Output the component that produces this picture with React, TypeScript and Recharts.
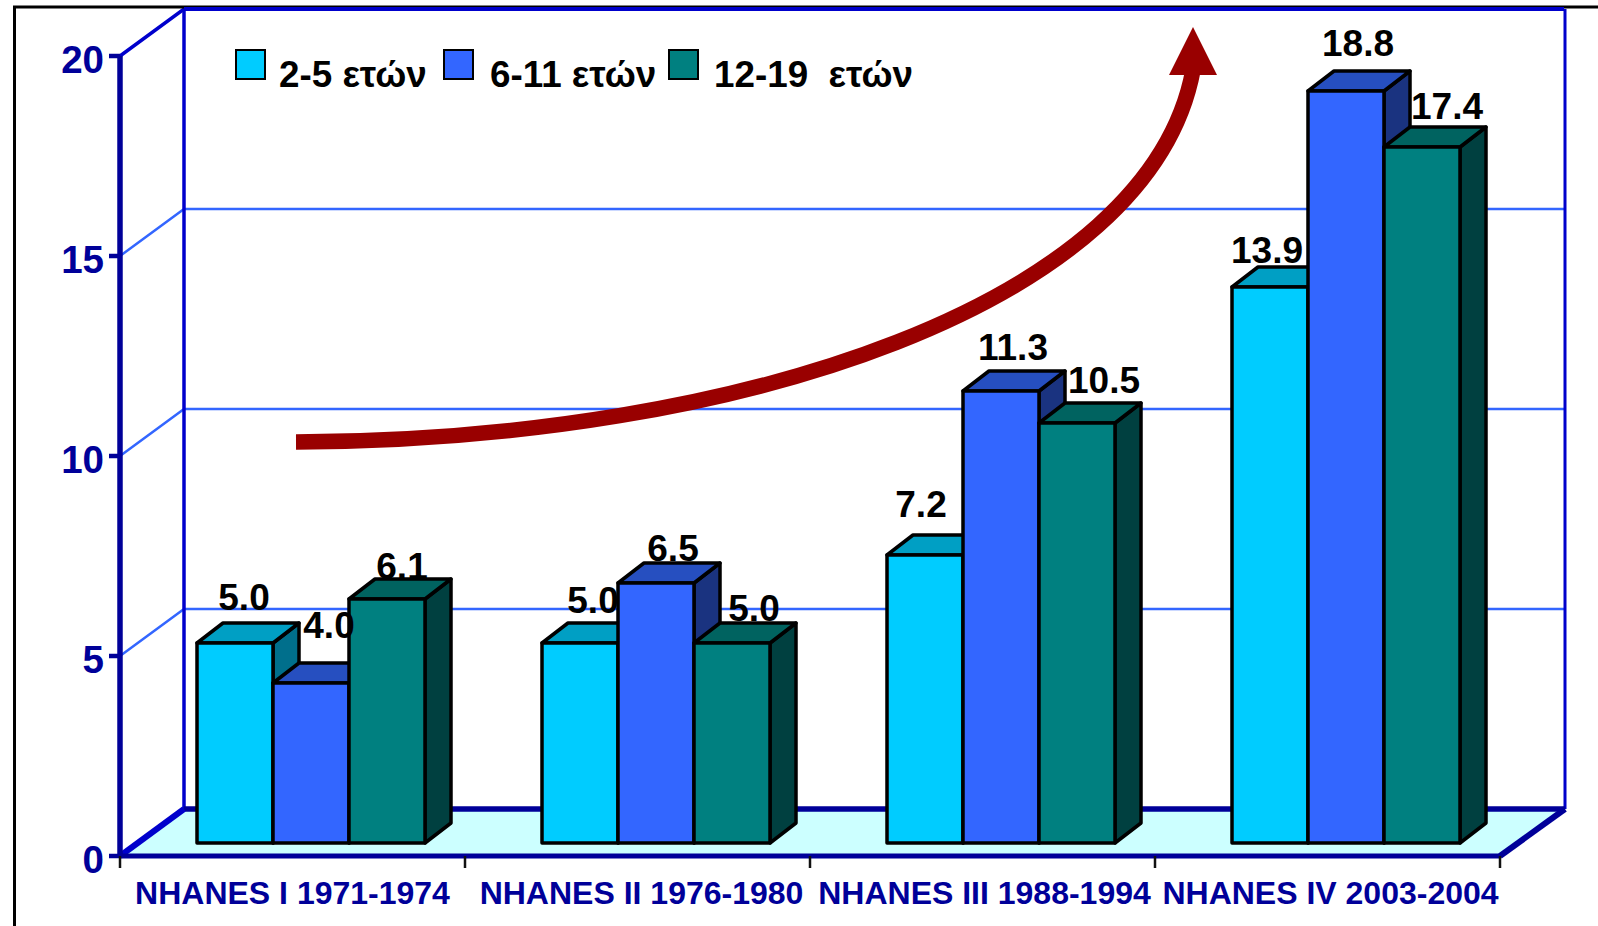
import { Bar, BarChart, CartesianGrid, LabelList, Legend, XAxis, YAxis } from 'recharts'

const periods = ['NHANES I 1971-1974', 'NHANES II 1976-1980', 'NHANES III 1988-1994', 'NHANES IV 2003-2004']
const ages2to5 = [5.0, 5.0, 7.2, 13.9]
const ages6to11 = [4.0, 6.5, 11.3, 18.8]
const ages12to19 = [6.1, 5.0, 10.5, 17.4]
const yTicks = [0, 5, 10, 15, 20]
const seriesNames = ['2-5 ετών', '6-11 ετών', '12-19  ετών']

const rows = periods.map((period, i) => ({
  period,
  a: ages2to5[i],
  b: ages6to11[i],
  c: ages12to19[i],
}))

const FONT = '"Liberation Sans", Arial, sans-serif'
const NAVY = '#000099'
const BLUE = '#0000CC'
const GRID = '#3366FF'

const WIDTH = 1598
const HEIGHT = 926
const PLOT = { left: 120, right: 1500, top: 56, bottom: 856 }
const WALL = { dx: 64, dy: -47 }
const BAR_SHIFT = { dx: 19, dy: -13 }
const BOX = { dx: 26, dy: -20 }

const tones = [
  { front: '#00CCFF', top: '#009FC4', side: '#006F8C' },
  { front: '#3366FF', top: '#264FC0', side: '#1A3380' },
  { front: '#008080', top: '#006360', side: '#004040' },
]

// hand placed in the original, so each label has its own nudge [dx, gap above the box]
const labelNudges = [
  [[9, 13], [13, 10], [-4, 18], [-3, 4]],
  [[18, 25], [17, 2], [12, 11], [12, 15]],
  [[15, 0], [22, 2], [27, 10], [25, 8]],
]
const periodNudges = [0, 4, 2, 3]

const legendSwatchX = [235, 443, 668]
const legendTextX = [279, 490, 714]

function Box3D({ x, y, width, height, tone }: any) {
  const l = x + BAR_SHIFT.dx
  const r = l + width
  const t = y + BAR_SHIFT.dy
  const b = t + height
  const common = { stroke: '#000', strokeWidth: 3.5, strokeLinejoin: 'round' as const }
  return (
    <g>
      <path d={`M${r},${t} L${r + BOX.dx},${t + BOX.dy} L${r + BOX.dx},${b + BOX.dy} L${r},${b} Z`} fill={tone.side} {...common} />
      <path d={`M${l},${t} L${l + BOX.dx},${t + BOX.dy} L${r + BOX.dx},${t + BOX.dy} L${r},${t} Z`} fill={tone.top} {...common} />
      <rect x={l} y={t} width={width} height={height} fill={tone.front} {...common} />
    </g>
  )
}

function valueLabel(series: number) {
  return ({ x, y, width, value, index }: any) => {
    const [dx, gap] = labelNudges[series][index]
    return (
      <text
        x={x + width / 2 + BAR_SHIFT.dx + dx}
        y={y + BAR_SHIFT.dy + BOX.dy - gap}
        textAnchor='middle'
        fontFamily={FONT}
        fontWeight='bold'
        fontSize={37}
        fill='#000'
      >
        {Number(value).toFixed(1)}
      </text>
    )
  }
}

function WallGridLine({ x1, y1, x2 }: any) {
  const isTop = y1 <= PLOT.top + 1
  return (
    <path
      d={`M${x1},${y1} L${x1 + WALL.dx},${y1 + WALL.dy} L${x2 + WALL.dx},${y1 + WALL.dy}`}
      fill='none'
      stroke={isTop ? BLUE : GRID}
      strokeWidth={isTop ? 3.5 : 2.5}
    />
  )
}

function PeriodTick({ x, y, payload, index }: any) {
  const band = (PLOT.right - PLOT.left) / periods.length
  return (
    <g>
      <line x1={x - band / 2} x2={x - band / 2} y1={y - 8} y2={y + 4} stroke='#111' strokeWidth={2.5} />
      {index === periods.length - 1 && (
        <line x1={x + band / 2} x2={x + band / 2} y1={y - 8} y2={y + 4} stroke='#111' strokeWidth={2.5} />
      )}
      <text
        x={x + periodNudges[index]}
        y={y + 40}
        textAnchor='middle'
        fontFamily={FONT}
        fontWeight='bold'
        fontSize={32}
        fill={NAVY}
      >
        {payload.value}
      </text>
    </g>
  )
}

function ValueTick({ x, y, payload }: any) {
  return (
    <text x={x + 4} y={y + 17} textAnchor='end' fontFamily={FONT} fontWeight='bold' fontSize={38.5} fill={NAVY}>
      {payload.value}
    </text>
  )
}

function LegendContent() {
  return (
    <div style={{ position: 'relative', width: WIDTH, height: 100, fontFamily: FONT, fontWeight: 'bold', fontSize: 36.8 }}>
      {seriesNames.map((name, i) => (
        <div key={name}>
          <div
            style={{
              position: 'absolute',
              left: legendSwatchX[i],
              top: 49,
              width: 27,
              height: 27,
              background: tones[i].front,
              border: '2.5px solid #000',
            }}
          />
          <span style={{ position: 'absolute', left: legendTextX[i], top: 54, whiteSpace: 'pre', color: '#000' }}>{name}</span>
        </div>
      ))}
    </div>
  )
}

export default function App() {
  const floor = `M${PLOT.left},${PLOT.bottom} L${PLOT.left + WALL.dx},${PLOT.bottom + WALL.dy} L${PLOT.right + WALL.dx},${PLOT.bottom + WALL.dy} L${PLOT.right},${PLOT.bottom} Z`
  const backTop = PLOT.top + WALL.dy
  const backBottom = PLOT.bottom + WALL.dy

  return (
    <div style={{ position: 'absolute', left: 0, top: 0, width: WIDTH, height: HEIGHT, background: '#fff' }}>
      <BarChart
        width={WIDTH}
        height={HEIGHT}
        data={rows}
        margin={{ top: PLOT.top, right: WIDTH - PLOT.right, bottom: 0, left: 0 }}
        barCategoryGap={58}
        barGap={0}
      >
        <path d={`M14.5,${HEIGHT} L14.5,7 L${WIDTH},7`} fill='none' stroke='#000' strokeWidth={3} />
        <CartesianGrid vertical={false} horizontal={(props: any) => <WallGridLine key={props.key} {...props} />} />
        <path d={floor} fill='#CCFFFF' />
        <line x1={PLOT.left + WALL.dx} x2={PLOT.left + WALL.dx} y1={backTop} y2={backBottom} stroke={BLUE} strokeWidth={3.5} />
        <line x1={PLOT.right + WALL.dx + 1} x2={PLOT.right + WALL.dx + 1} y1={backTop} y2={backBottom} stroke={BLUE} strokeWidth={3} />
        <line x1={PLOT.left + WALL.dx} x2={PLOT.right + WALL.dx} y1={backTop} y2={backTop} stroke={BLUE} strokeWidth={4} />
        <line x1={PLOT.left + WALL.dx} x2={PLOT.right + WALL.dx + 1} y1={backBottom} y2={backBottom} stroke={NAVY} strokeWidth={5.5} />
        <line x1={PLOT.left} x2={PLOT.left + WALL.dx} y1={PLOT.bottom} y2={backBottom} stroke={BLUE} strokeWidth={6} />
        <line x1={PLOT.right} x2={PLOT.right + WALL.dx + 1} y1={PLOT.bottom} y2={backBottom} stroke={NAVY} strokeWidth={6} />

        <XAxis
          dataKey='period'
          height={HEIGHT - PLOT.bottom}
          axisLine={{ stroke: NAVY, strokeWidth: 5 }}
          tickLine={false}
          interval={0}
          tick={<PeriodTick />}
        />
        <XAxis xAxisId='labels' dataKey='period' hide />
        <YAxis
          width={PLOT.left}
          domain={[0, 20]}
          ticks={yTicks}
          axisLine={{ stroke: NAVY, strokeWidth: 5.5 }}
          tickLine={{ stroke: NAVY, strokeWidth: 4.5 }}
          tickSize={11}
          tickMargin={9}
          tick={<ValueTick />}
        />

        {/* labels sit behind the boxes in the original, so they get their own empty bars drawn first */}
        {['a', 'b', 'c'].map((key, i) => (
          <Bar key={key} xAxisId='labels' dataKey={key} fill='none' legendType='none' isAnimationActive={false}>
            <LabelList dataKey={key} content={valueLabel(i)} />
          </Bar>
        ))}

        {['a', 'b', 'c'].map((key, i) => (
          <Bar
            key={`box-${key}`}
            dataKey={key}
            name={seriesNames[i]}
            fill={tones[i].front}
            isAnimationActive={false}
            shape={(props: any) => <Box3D {...props} tone={tones[i]} />}
          />
        ))}

        <path d='M296,442 C745,440 1150,302 1193,70' fill='none' stroke='#990000' strokeWidth={15.5} />
        <path d='M1193,27 L1217,75 L1169,75 Z' fill='#990000' />

        <Legend
          layout='horizontal'
          verticalAlign='middle'
          wrapperStyle={{ position: 'absolute', left: 0, top: 0, width: WIDTH, height: 100 }}
          content={<LegendContent />}
        />
      </BarChart>
    </div>
  )
}
